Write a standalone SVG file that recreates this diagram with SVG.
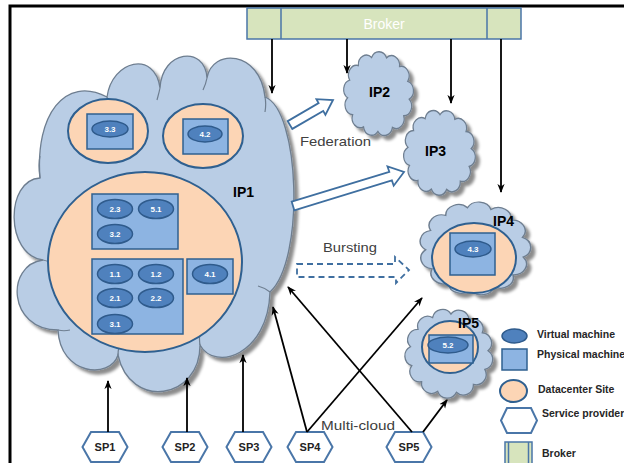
<svg xmlns="http://www.w3.org/2000/svg" xmlns:xlink="http://www.w3.org/1999/xlink" width="624" height="463" viewBox="0 0 624 463">
<style>
.cloud{fill:#b9cde5;stroke:#6e7e90;stroke-width:1.3}
.cin{fill:none;stroke:#6e7e90;stroke-width:1.2}
.dc{fill:#fcd5b5;stroke:#2f6090;stroke-width:2}
.pm{fill:#8db4e2;stroke:#2f6090;stroke-width:1.5}
.vm{fill:#4f81bd;stroke:#2f5b8c;stroke-width:1.5}
.vmt{font-family:"Liberation Sans",Arial,sans-serif;font-weight:bold;font-size:8px;fill:#fff;text-anchor:middle}
.ip{font-family:"Liberation Sans",Arial,sans-serif;font-weight:bold;font-size:14px;fill:#000}
.lbl{font-family:"Liberation Sans",Arial,sans-serif;font-size:13px;fill:#404040}
.conn{stroke:#000;stroke-width:1.8;fill:none;marker-end:url(#ah)}
.sp{fill:#fff;stroke:#4a76a8;stroke-width:2}
.spt{font-family:"Liberation Sans",Arial,sans-serif;font-weight:bold;font-size:11px;fill:#222;text-anchor:middle}
.leg{font-family:"Liberation Sans",Arial,sans-serif;font-weight:bold;font-size:10.5px;fill:#262626}
.blk{fill:#fff;stroke:#3f6fa0;stroke-width:1.8}
.brk{fill:#d7e4bd;stroke:#4a76a8;stroke-width:1.5}
</style>
<defs>
<filter id="sh" x="-10%" y="-10%" width="130%" height="130%">
<feDropShadow dx="4" dy="4" stdDeviation="1.5" flood-color="#000" flood-opacity="0.45"/>
</filter>
<path id="uc" d="M0.85,0 A0.22,0.22 0 0 1 0.7527,0.395 A0.22,0.22 0 0 1 0.4829,0.6996 A0.22,0.22 0 0 1 0.1024,0.8438 A0.22,0.22 0 0 1 -0.3014,0.7948 A0.22,0.22 0 0 1 -0.6362,0.5636 A0.22,0.22 0 0 1 -0.8253,0.2034 A0.22,0.22 0 0 1 -0.8253,-0.2034 A0.22,0.22 0 0 1 -0.6362,-0.5636 A0.22,0.22 0 0 1 -0.3014,-0.7948 A0.22,0.22 0 0 1 0.1024,-0.8438 A0.22,0.22 0 0 1 0.4829,-0.6996 A0.22,0.22 0 0 1 0.7527,-0.395 A0.22,0.22 0 0 1 0.85,0 Z"/>
<marker id="ah" viewBox="0 0 10 10" refX="9" refY="5" markerWidth="9" markerHeight="9" orient="auto" markerUnits="userSpaceOnUse">
<path d="M0,1 L10,5 L0,9 L3,5 z" fill="#000"/>
</marker>
</defs>

<path d="M10,463 L10,6 L624,6" fill="none" stroke="#000" stroke-width="3"/>

<g id="broker">
<rect class="brk" x="247" y="8" width="274" height="31"/>
<line x1="281" y1="8" x2="281" y2="39" stroke="#4a76a8" stroke-width="1.5"/>
<line x1="487" y1="8" x2="487" y2="39" stroke="#4a76a8" stroke-width="1.5"/>
<text x="384" y="29" font-family="Liberation Sans, Arial, sans-serif" font-size="14" fill="#fff" text-anchor="middle">Broker</text>
</g>

<g id="ip1">
<path class="cloud" filter="url(#sh)" d="M40,178 C35,115 65,75 107,97 C112,60 155,50 160,88 C162,50 205,45 207,78 C212,48 260,50 265,97 C300,110 305,260 270,292 C268,355 215,372 200,345 C200,400 130,410 118,355 C110,380 60,375 58,330 C8,330 5,265 43,260 C5,255 5,180 40,178 Z"/>
<path class="cin" d="M40,178 C39,170 38,165 40,156 M107,97 C108,103 110,107 113,110 M160,88 C159,93 158,96 157,100 M207,78 C206,83 205,86 203,90 M265,97 C266,102 266,106 265,112 M270,292 C266,289 262,287 258,286 M200,345 C199,338 199,334 201,328 M118,355 C118,349 119,345 122,340 M58,330 C62,331 66,331 70,330 M43,260 C47,261 50,262 54,263"/>
<ellipse class="dc" cx="108" cy="131" rx="40" ry="32"/>
<rect class="pm" x="87" y="114" width="46" height="35"/>
<ellipse class="vm" cx="110" cy="129" rx="18" ry="8"/>
<text class="vmt" x="110" y="132">3.3</text>
<ellipse class="dc" cx="203" cy="136" rx="40" ry="32"/>
<rect class="pm" x="183" y="119" width="45" height="35"/>
<ellipse class="vm" cx="205" cy="134" rx="17" ry="8"/>
<text class="vmt" x="205" y="137">4.2</text>
<ellipse class="dc" cx="145" cy="262" rx="97" ry="90"/>
<rect class="pm" x="92" y="194" width="86" height="55"/>
<ellipse class="vm" cx="115" cy="209" rx="17.5" ry="9.5"/>
<text class="vmt" x="115" y="212">2.3</text>
<ellipse class="vm" cx="156" cy="209" rx="17.5" ry="9.5"/>
<text class="vmt" x="156" y="212">5.1</text>
<ellipse class="vm" cx="115" cy="234" rx="17.5" ry="9.5"/>
<text class="vmt" x="115" y="237">3.2</text>
<rect class="pm" x="92" y="259" width="91" height="75"/>
<ellipse class="vm" cx="115" cy="274" rx="17.5" ry="9.5"/>
<text class="vmt" x="115" y="277">1.1</text>
<ellipse class="vm" cx="156" cy="274" rx="17.5" ry="9.5"/>
<text class="vmt" x="156" y="277">1.2</text>
<ellipse class="vm" cx="115" cy="298" rx="17.5" ry="9.5"/>
<text class="vmt" x="115" y="301">2.1</text>
<ellipse class="vm" cx="156" cy="298" rx="17.5" ry="9.5"/>
<text class="vmt" x="156" y="301">2.2</text>
<ellipse class="vm" cx="115" cy="324" rx="17.5" ry="9.5"/>
<text class="vmt" x="115" y="327">3.1</text>
<rect class="pm" x="187" y="259" width="46" height="35"/>
<ellipse class="vm" cx="210" cy="274" rx="17.5" ry="9.5"/>
<text class="vmt" x="210" y="277">4.1</text>
<text class="ip" x="233" y="197">IP1</text>
</g>

<g id="ip2">
<g filter="url(#sh)"><use xlink:href="#uc" class="cloud" style="stroke-width:0.032" transform="translate(378.5,94) scale(36.5,44) rotate(8)"/></g>
<text class="ip" x="369" y="97">IP2</text>
</g>
<g id="ip3">
<g filter="url(#sh)"><use xlink:href="#uc" class="cloud" style="stroke-width:0.032" transform="translate(439.5,152.5) scale(37.5,44.5) rotate(-6)"/></g>
<text class="ip" x="425" y="156">IP3</text>
</g>
<g id="ip4">
<g filter="url(#sh)"><use xlink:href="#uc" class="cloud" style="stroke-width:0.025" transform="translate(475,248.5) scale(58,48.5) rotate(12)"/></g>
<ellipse class="dc" cx="474" cy="258" rx="42" ry="35"/>
<rect class="pm" x="450" y="233" width="45" height="42"/>
<ellipse class="vm" cx="473" cy="249" rx="18" ry="8"/>
<text class="vmt" x="473" y="252">4.3</text>
<text class="ip" x="493" y="226">IP4</text>
</g>
<g id="ip5">
<g filter="url(#sh)"><use xlink:href="#uc" class="cloud" style="stroke-width:0.028" transform="translate(449,353.5) scale(46,46.5) rotate(-4)"/></g>
<ellipse class="dc" cx="450" cy="347" rx="28" ry="26"/>
<rect class="pm" x="429" y="335" width="44" height="28"/>
<ellipse class="vm" cx="448" cy="345" rx="20" ry="8"/>
<text class="vmt" x="448" y="348">5.2</text>
<text class="ip" x="458" y="328">IP5</text>
</g>

<g id="sp1"><polygon class="sp" points="82.5,447 91,432 119,432 127.5,447 119,462 91,462"/><text class="spt" x="105" y="451">SP1</text></g>
<g id="sp2"><polygon class="sp" points="162.5,447 171,432 199,432 207.5,447 199,462 171,462"/><text class="spt" x="185" y="451">SP2</text></g>
<g id="sp3"><polygon class="sp" points="226.5,447 235,432 263,432 271.5,447 263,462 235,462"/><text class="spt" x="249" y="451">SP3</text></g>
<g id="sp4"><polygon class="sp" points="287.5,447 296,432 324,432 332.5,447 324,462 296,462"/><text class="spt" x="310" y="451">SP4</text></g>
<g id="sp5"><polygon class="sp" points="386.5,447 395,432 423,432 431.5,447 423,462 395,462"/><text class="spt" x="409" y="451">SP5</text></g>

<g id="connectors">
<line class="conn" x1="272" y1="39" x2="272" y2="93"/>
<line class="conn" x1="347" y1="39" x2="347" y2="73"/>
<line class="conn" x1="451" y1="39" x2="451" y2="103"/>
<line class="conn" x1="501" y1="39" x2="501" y2="192"/>
<line class="conn" x1="108" y1="432" x2="108" y2="381"/>
<line class="conn" x1="187" y1="432" x2="187" y2="378"/>
<line class="conn" x1="243" y1="432" x2="243" y2="355"/>
<line class="conn" x1="307" y1="432" x2="273" y2="307"/>
<line class="conn" x1="307" y1="432" x2="422" y2="298"/>
<line class="conn" x1="412" y1="432" x2="288" y2="287"/>
<line class="conn" x1="423" y1="432" x2="447" y2="400"/>
<polygon class="blk" points="287.7,121.1 318.6,103.1 316.4,99.2 333,100 325.4,114.8 323.2,110.9 292.3,128.9"/>
<polygon class="blk" points="291.7,201.7 389.3,171.8 387.5,166.5 404,172 393.7,185.7 391.9,180.4 294.3,210.3"/>
<polygon class="blk" stroke-dasharray="6,4" points="297,264 395,264 395,257 409,270 396,283 396,277 297,277"/>
<text class="lbl" x="300" y="146" textLength="71" lengthAdjust="spacingAndGlyphs">Federation</text>
<text class="lbl" x="323" y="252" textLength="54" lengthAdjust="spacingAndGlyphs">Bursting</text>
<text class="lbl" x="321" y="430" textLength="74" lengthAdjust="spacingAndGlyphs">Multi-cloud</text>
</g>

<g id="legend">
<ellipse class="vm" cx="514.5" cy="336" rx="12.5" ry="7"/>
<text class="leg" x="537" y="338">Virtual machine</text>
<rect class="pm" x="502" y="349" width="25" height="21"/>
<text class="leg" x="537" y="358">Physical machine</text>
<ellipse class="dc" cx="513.5" cy="391" rx="13.5" ry="11"/>
<text class="leg" x="538" y="393">Datacenter Site</text>
<polygon class="sp" points="501,420.5 507,408 531,408 537,420.5 531,433 507,433"/>
<text class="leg" x="542" y="417">Service provider</text>
<rect class="brk" x="505" y="442" width="27" height="24"/>
<line x1="508.5" y1="442" x2="508.5" y2="466" stroke="#4a76a8" stroke-width="1.5"/>
<line x1="528.5" y1="442" x2="528.5" y2="466" stroke="#4a76a8" stroke-width="1.5"/>
<text class="leg" x="542" y="457">Broker</text>
</g>
</svg>
